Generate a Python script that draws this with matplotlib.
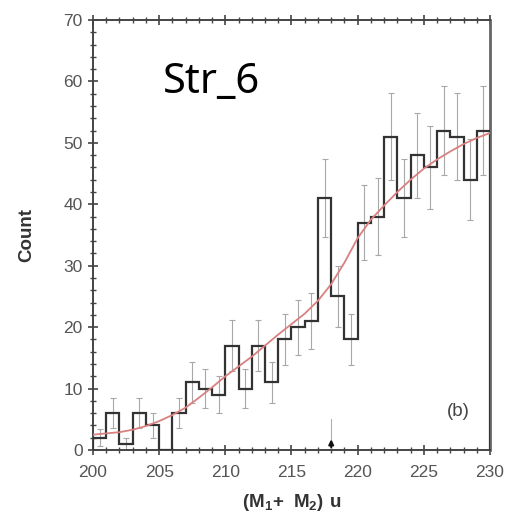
import matplotlib
matplotlib.use("Agg")
import matplotlib.pyplot as plt
import numpy as np
from matplotlib.ticker import MultipleLocator

# ---- data ----
bin_edges = list(range(200, 231))
counts = [2, 6, 1, 6, 4, 0, 6, 11, 10, 9, 17, 10, 17, 11, 18, 20, 21, 41, 25, 18,
          37, 38, 51, 41, 48, 46, 52, 51, 44, 52]
errors = [1.4, 2.4, 1.0, 2.4, 2.0, 0.0, 2.4, 3.3, 3.2, 3.0, 4.1, 3.2, 4.1, 3.3, 4.2,
          4.5, 4.6, 6.4, 5.0, 4.2, 6.1, 6.2, 7.1, 6.4, 6.9, 6.8, 7.2, 7.1, 6.6, 7.2]
fit_x = list(range(200, 231))
fit_y = [2.5, 2.7, 2.9, 3.3, 3.9, 4.7, 5.7, 6.9, 8.5, 10.2, 12.0, 13.6, 15.2, 17.0,
         18.8, 20.5, 22.2, 24.3, 27.0, 30.5, 34.5, 37.5, 39.8, 42.0, 44.0, 45.8,
         47.3, 48.6, 49.8, 50.8, 51.6]
arrow_x = 218
arrow_top = 5.0
x_ticks = [200, 205, 210, 215, 220, 225, 230]
y_ticks = [0, 10, 20, 30, 40, 50, 60, 70]

plt.rcParams['font.family'] = ['Liberation Sans', 'DejaVu Sans']
plt.rcParams['mathtext.fontset'] = 'custom'
plt.rcParams['mathtext.rm'] = 'Liberation Sans'
plt.rcParams['mathtext.bf'] = 'Liberation Sans:bold'

fig = plt.figure(figsize=(5.06, 5.25), dpi=100)
ax = fig.add_axes([93/506, 1-450/525, (490-93)/506, (450-20)/525])

centers = [e + 0.5 for e in bin_edges[:-1]]
mask = [e > 0 for e in errors]
cx = [c for c, m in zip(centers, mask) if m]
cy = [v for v, m in zip(counts, mask) if m]
ce = [v for v, m in zip(errors, mask) if m]
ax.errorbar(cx, cy, yerr=ce, fmt='none', ecolor='#a8a8a8', elinewidth=0.8,
            capsize=2, capthick=0.8, zorder=2)

ax.stairs(counts, bin_edges, color='#333333', linewidth=1.6, zorder=3)
ax.plot(fit_x, fit_y, color='#d98080', linewidth=1.3, zorder=4)

ax.plot([arrow_x, arrow_x], [0, arrow_top], color='#b0b0b0', lw=0.8, zorder=2)
ax.annotate('', xy=(arrow_x, 2.2), xytext=(arrow_x, 0),
            arrowprops=dict(arrowstyle='-|>', color='#111111', lw=1.5,
                            mutation_scale=7), zorder=5)

ax.set_xlim(200, 230)
ax.set_ylim(0, 70)
ax.set_xticks(x_ticks)
ax.set_yticks(y_ticks)
ax.xaxis.set_minor_locator(MultipleLocator(1))
ax.yaxis.set_minor_locator(MultipleLocator(2))
ax.tick_params(axis='both', which='major', direction='inout', length=7, width=1.2,
               color='#444444', labelcolor='#555555', labelsize=12.5,
               top=True, right=False)
ax.tick_params(axis='both', which='minor', direction='inout', length=4, width=1.0,
               color='#444444', top=True, right=False)
ax.tick_params(axis='x', pad=7)
ax.tick_params(axis='y', pad=4)

for s in ['left', 'bottom', 'top']:
    ax.spines[s].set_color('#444444')
    ax.spines[s].set_linewidth(1.4)
ax.spines['right'].set_color('#666666')
ax.spines['right'].set_linewidth(2.0)

ax.set_ylabel('Count', fontsize=13.5, fontweight='bold', color='#333333', labelpad=20)
ax.set_xlabel(r'$\mathbf{(M_{1}\!+\ M_{2})\ u}$', fontsize=13.5, color='#333333',
              labelpad=9)

ax.text(227.6, 6.2, '(b)', fontsize=13.5, color='#444444', ha='center', va='center')

fig.text(163/506, 1-93/525, 'Str_6', fontsize=30, family='Noto Sans',
         color='black', ha='left', va='baseline')

fig.savefig('out.png', dpi=100)
